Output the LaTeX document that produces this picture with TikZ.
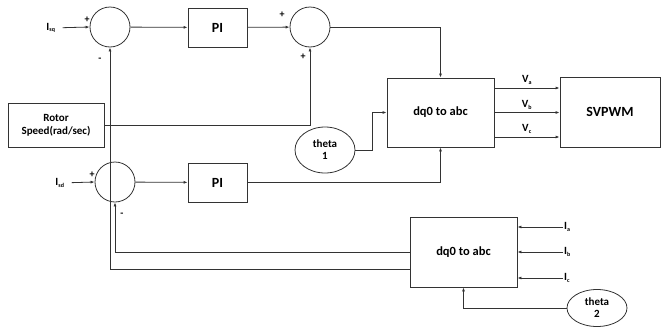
\documentclass[tikz,border=0pt]{standalone}
\usepackage{fontspec}
\setmainfont{Carlito}
\usepackage{tikz}
\usetikzlibrary{arrows.meta,positioning,shapes.geometric,calc}
\definecolor{lineg}{HTML}{333333}
\tikzset{
  block/.style={draw=lineg,line width=0.8pt,align=center,font=\fontsize{11}{13}\selectfont\bfseries,inner sep=2pt},
  bigtxt/.style={font=\fontsize{14}{16}\selectfont\bfseries},
  midtxt/.style={font=\fontsize{12.5}{15}\selectfont\bfseries},
  sumnode/.style={draw=lineg,line width=0.8pt,circle,minimum size=40pt,inner sep=0pt},
  oval/.style={draw=lineg,line width=0.8pt,ellipse,align=center,inner sep=0pt,
    font=\fontsize{11}{12}\selectfont\bfseries},
  lbl/.style={font=\fontsize{11}{13}\selectfont\bfseries,inner sep=1pt},
  sgn/.style={font=\fontsize{10}{12}\selectfont\bfseries,inner sep=0pt},
  flow/.style={-{Latex[length=4pt,width=3pt]},draw=lineg,line width=0.8pt},
  wire/.style={draw=lineg,line width=0.8pt}
}
\newcommand{\sub}[1]{\textsubscript{\fontsize{6}{6}\selectfont #1}}
\begin{document}
\begin{tikzpicture}[x=1pt,y=-1pt]
  \useasboundingbox (0,0) rectangle (662,327);
  % q-axis loop
  \node[lbl] (isq) at (51,28) {I\sub{sq}};
  \node[sumnode] (sum1) at (110,27) {};
  \node[block,bigtxt,minimum width=59pt,minimum height=39pt] (pi1) at (217.5,27.5) {PI};
  \node[sumnode] (sum2) at (310,27) {};
  \node[block,minimum width=96pt,minimum height=44pt] (rotor) at (56,125) {Rotor\\Speed(rad/sec)};
  % d-axis loop
  \node[lbl] (isd) at (60,183) {I\sub{sd}};
  \node[sumnode] (sum3) at (115,182) {};
  \node[block,bigtxt,minimum width=59pt,minimum height=39pt] (pi2) at (217.5,182.5) {PI};
  % transforms
  \node[block,midtxt,minimum width=107pt,minimum height=69pt] (dq1) at (440.5,112.5) {dq0 to abc};
  \node[block,bigtxt,minimum width=100pt,minimum height=70pt] (svpwm) at (610,112) {SVPWM};
  \node[oval,minimum width=60pt,minimum height=46pt] (theta1) at (325,150) {theta\\1};
  \node[block,midtxt,minimum width=107pt,minimum height=70pt] (dq2) at (463.5,252) {dq0 to abc};
  \node[oval,minimum width=60pt,minimum height=37pt] (theta2) at (597,308) {theta\\2};
  \node[lbl,anchor=west] (ia) at (563,227) {I\sub{a}};
  \node[lbl,anchor=west] (ib) at (563,252) {I\sub{b}};
  \node[lbl,anchor=west] (ic) at (563,278) {I\sub{c}};
  % signs
  \node[sgn] (p1) at (87,20) {+};
  \node[sgn] (m1) at (100,60) {-};
  \node[sgn] (p2) at (282,15) {+};
  \node[sgn] (p3) at (303,57) {+};
  \node[sgn] (p4) at (92,175) {+};
  \node[sgn] (m2) at (122,215) {-};
  % forward paths
  \draw[flow,shorten <=6pt] (isq) -- (sum1.west);
  \draw[flow] (sum1) -- (pi1);
  \draw[flow] (pi1) -- (sum2);
  \draw[flow] (sum2.east) -| (dq1.north);
  \draw[flow] (rotor.east) -| (sum2.south);
  \draw[flow,shorten <=6pt] (isd) -- (sum3.west);
  \draw[flow] (sum3) -- (pi2);
  \draw[flow] (pi2.east) -| (dq1.south);
  \draw[flow] (theta1.east) -- ++(17,0) |- (dq1.west);
  % voltages
  \foreach \dy/\nm in {24.5/a,0/b,-24.5/c}
    \draw[flow] ([yshift=\dy pt]dq1.east) -- ([yshift=\dy pt]dq1.east -| svpwm.west)
      node[lbl,midway,above=2pt] {V\sub{\nm}};
  % feedback
  \draw[flow] (dq2.west) -| (sum3.south);
  \draw[flow] ([yshift=-17pt]dq2.west) -| (sum1.south);
  \foreach \cur in {ia,ib,ic}
    \draw[flow] (\cur.west) -- (\cur.west -| dq2.east);
  \draw[flow] (theta2.west) -| (dq2.south);
\end{tikzpicture}
\end{document}
